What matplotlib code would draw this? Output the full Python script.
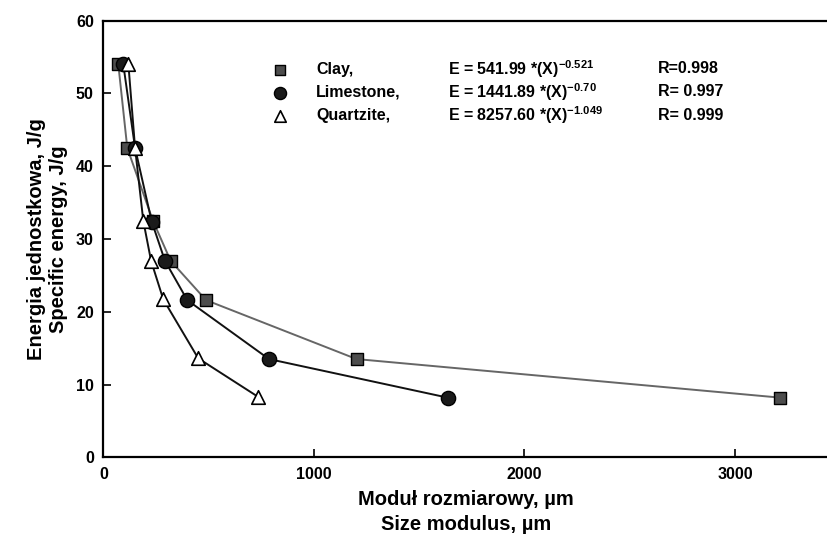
import matplotlib
matplotlib.use("Agg")
import matplotlib.pyplot as plt

# data (size modulus in um, specific energy in J/g)
clay_x = [70, 113, 235, 319, 487, 1202, 3214]
clay_y = [54.1, 42.5, 32.5, 27.0, 21.6, 13.5, 8.2]
lime_x = [94, 150, 229, 292, 398, 786, 1635]
lime_y = [54.0, 42.5, 32.4, 27.0, 21.6, 13.5, 8.2]
quartz_x = [118, 150, 189, 226, 284, 450, 735]
quartz_y = [54.1, 42.5, 32.5, 27.0, 21.7, 13.6, 8.3]

names = ["Clay,", "Limestone,", "Quartzite,"]
equations = [r"E = 541.99 *(X)$^{\mathbf{-0.521}}$",
             r"E = 1441.89 *(X)$^{\mathbf{-0.70}}$",
             r"E = 8257.60 *(X)$^{\mathbf{-1.049}}$"]
r_values = ["R=0.998", "R= 0.997", "R= 0.999"]

x_ticks = [0, 1000, 2000, 3000]
y_ticks = [0, 10, 20, 30, 40, 50, 60]

plt.rcParams["font.family"] = ["Liberation Sans", "DejaVu Sans"]
plt.rcParams["font.weight"] = "bold"
plt.rcParams["mathtext.fontset"] = "custom"
plt.rcParams["mathtext.rm"] = "Liberation Sans:bold"
plt.rcParams["mathtext.bf"] = "Liberation Sans:bold"

W, H = 828, 542
fig = plt.figure(figsize=(W / 100, H / 100), dpi=100)
ax = fig.add_axes([103.5 / W, 1 - 457.3 / H, (W - 103.5) / W, (457.3 - 20.7) / H])

ax.plot(clay_x, clay_y, color="#666666", lw=1.4, zorder=2)
ax.plot(lime_x, lime_y, color="#111111", lw=1.4, zorder=2)
ax.plot(quartz_x, quartz_y, color="#111111", lw=1.4, zorder=2)

h1 = ax.scatter(clay_x, clay_y, marker="s", s=75, facecolor="#4d4d4d",
                edgecolor="black", linewidth=1.0, zorder=3)
h2 = ax.scatter(lime_x, lime_y, marker="o", s=105, facecolor="#1a1a1a",
                edgecolor="black", linewidth=1.0, zorder=4)
h3 = ax.scatter(quartz_x, quartz_y, marker="^", s=95, facecolor="white",
                edgecolor="black", linewidth=1.2, zorder=5)

ax.set_xlim(0, (W - 103.5) / 0.2105)
ax.set_ylim(0, 60)
ax.set_xticks(x_ticks)
ax.set_yticks(y_ticks)
ax.tick_params(direction="in", length=6, width=1.2, labelsize=11.5, pad=7)
for s in ["left", "bottom", "top"]:
    ax.spines[s].set_linewidth(1.6)
ax.spines["right"].set_visible(False)

ax.set_xlabel("Moduł rozmiarowy, µm\nSize modulus, µm", fontsize=14.5,
              fontweight="bold", labelpad=6, linespacing=1.35)
ax.set_ylabel("Energia jednostkowa, J/g\nSpecific energy, J/g", fontsize=14.5,
              fontweight="bold", labelpad=6, linespacing=1.2)

leg = fig.legend([h1, h2, h3], names, loc="upper left",
                 bbox_to_anchor=(272 / W, 1 - 62 / H), frameon=False,
                 fontsize=11.5, handlelength=1.0, handletextpad=1.75,
                 labelspacing=0.50, borderpad=0, borderaxespad=0,
                 scatterpoints=1, markerscale=0.85)
for t in leg.get_texts():
    t.set_fontweight("bold")

rows_y = [69, 92, 115]
for eq, rv, yy in zip(equations, r_values, rows_y):
    fig.text(448 / W, 1 - yy / H, eq, fontsize=11.5, fontweight="bold",
             va="center", ha="left")
    fig.text(658 / W, 1 - yy / H, rv, fontsize=11.5, fontweight="bold",
             va="center", ha="left")

fig.savefig("out.png", dpi=100)
